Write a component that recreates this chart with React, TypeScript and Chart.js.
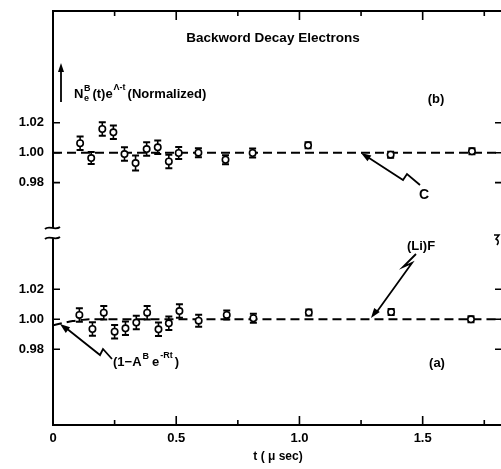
import React, { useEffect, useRef } from 'react';
import { Chart, registerables } from 'chart.js';

Chart.register(...registerables);

// ---- data ----
// panel (b): upper
const tB = [0.11, 0.155, 0.2, 0.245, 0.29, 0.335, 0.38, 0.425, 0.47, 0.51, 0.59, 0.7, 0.81, 1.035, 1.37, 1.7];
const valB = [1.0063, 0.9964, 1.0158, 1.0136, 0.9991, 0.9931, 1.0024, 1.0036, 0.9942, 0.9998, 1.0, 0.9953, 0.9998, 1.0049, 0.9987, 1.0009];
const errB = [0.0045, 0.004, 0.0045, 0.0045, 0.0045, 0.005, 0.0045, 0.0045, 0.0045, 0.004, 0.003, 0.003, 0.003, 0.002, 0.002, 0.002];
// panel (a): lower
const tA = [0.107, 0.16, 0.206, 0.25, 0.294, 0.338, 0.382, 0.428, 0.47, 0.513, 0.591, 0.705, 0.813, 1.038, 1.372, 1.696];
const valA = [1.0029, 0.9935, 1.0044, 0.9917, 0.994, 0.9978, 1.0044, 0.9933, 0.9973, 1.0055, 0.9991, 1.0029, 1.0007, 1.0045, 1.0048, 1.0];
const errA = [0.0045, 0.0045, 0.0045, 0.0045, 0.0045, 0.0045, 0.0045, 0.0045, 0.0045, 0.0045, 0.004, 0.003, 0.003, 0.002, 0.002, 0.002];
// dashed fit lines
const fitBT = [0, 1.83];
const fitBV = [1.0, 1.0];
const fitAT = [0, 0.04, 0.08, 0.12, 0.16, 1.83];
const fitAV = [0.996, 0.9975, 0.9988, 0.9996, 1.0, 1.0];
// ticks
const xTicks = [0, 0.25, 0.5, 0.75, 1.0, 1.25, 1.5, 1.75];
const xTickLabels = ['0', '', '0.5', '', '1.0', '', '1.5', ''];
const yTicks = [0.98, 1.0, 1.02];
const yTickLabels = ['0.98', '1.00', '1.02'];
// ranges
const X_MIN = 0;
const X_MAX = 1.83;
const YB_MIN = 0.9471;
const YB_MAX = 1.0945;
const YA_MIN = 0.9295;
const YA_MAX = 1.0582;

const FONT = '"Liberation Sans", Arial, sans-serif';

function arrowHead(ctx: CanvasRenderingContext2D, fx: number, fy: number, tx: number, ty: number, len = 9, wid = 3.5) {
  const a = Math.atan2(ty - fy, tx - fx);
  ctx.beginPath();
  ctx.moveTo(tx, ty);
  ctx.lineTo(tx - len * Math.cos(a) + wid * Math.sin(a), ty - len * Math.sin(a) - wid * Math.cos(a));
  ctx.lineTo(tx - len * Math.cos(a) - wid * Math.sin(a), ty - len * Math.sin(a) + wid * Math.cos(a));
  ctx.closePath();
  ctx.fill();
}

function poly(ctx: CanvasRenderingContext2D, pts: number[][]) {
  ctx.beginPath();
  ctx.moveTo(pts[0][0], pts[0][1]);
  for (let i = 1; i < pts.length; i++) ctx.lineTo(pts[i][0], pts[i][1]);
  ctx.stroke();
}

const annotPlugin = {
  id: 'annot',
  beforeDatasetsDraw(chart: any) {
    const ctx = chart.ctx as CanvasRenderingContext2D;
    const xs = chart.scales.x;
    ctx.save();
    ctx.strokeStyle = '#000';
    const bars = (ts: number[], vs: number[], es: number[], sc: any) => {
      for (let i = 0; i < ts.length; i++) {
        const px = xs.getPixelForValue(ts[i]);
        const y1 = sc.getPixelForValue(vs[i] + es[i]);
        const y2 = sc.getPixelForValue(vs[i] - es[i]);
        ctx.lineWidth = 1.6;
        ctx.beginPath();
        ctx.moveTo(px, y1);
        ctx.lineTo(px, y2);
        ctx.stroke();
        ctx.lineWidth = 2;
        ctx.beginPath();
        ctx.moveTo(px - 3.5, y1);
        ctx.lineTo(px + 3.5, y1);
        ctx.moveTo(px - 3.5, y2);
        ctx.lineTo(px + 3.5, y2);
        ctx.stroke();
      }
    };
    bars(tB, valB, errB, chart.scales.yb);
    bars(tA, valA, errA, chart.scales.ya);
    ctx.restore();
  },
  afterDraw(chart: any) {
    const ctx = chart.ctx as CanvasRenderingContext2D;
    const ca = chart.chartArea;
    const xs = chart.scales.x;
    const yb = chart.scales.yb;
    const ya = chart.scales.ya;
    ctx.save();
    ctx.strokeStyle = '#000';
    ctx.fillStyle = '#000';

    // top border
    ctx.lineWidth = 2;
    ctx.beginPath();
    ctx.moveTo(ca.left - 1, ca.top);
    ctx.lineTo(ca.right, ca.top);
    ctx.stroke();

    // x tick marks (inward), bottom and top
    ctx.lineWidth = 1.6;
    xTicks.forEach((v, i) => {
      if (v === 0) return;
      const px = xs.getPixelForValue(v);
      const long = xTickLabels[i] !== '';
      ctx.beginPath();
      ctx.moveTo(px, ca.bottom);
      ctx.lineTo(px, ca.bottom - (long ? 9 : 5));
      ctx.moveTo(px, ca.top);
      ctx.lineTo(px, ca.top + (long ? 9 : 5));
      ctx.stroke();
    });
    // y tick marks (inward) left and right
    [yb, ya].forEach((sc) => {
      yTicks.forEach((v) => {
        const py = sc.getPixelForValue(v);
        ctx.beginPath();
        ctx.moveTo(ca.left, py);
        ctx.lineTo(ca.left + 7, py);
        ctx.moveTo(ca.right, py);
        ctx.lineTo(ca.right - 9, py);
        ctx.stroke();
      });
    });

    // axis break on the left
    const bnd = yb.bottom;
    ctx.fillStyle = '#fff';
    ctx.fillRect(ca.left - 3, bnd - 4, 6, 10);
    ctx.fillStyle = '#000';
    ctx.lineWidth = 1.8;
    const tilde = (cx: number, cy: number) => {
      ctx.beginPath();
      ctx.moveTo(cx - 8, cy + 1);
      ctx.bezierCurveTo(cx - 4, cy - 3, cx + 2, cy + 3, cx + 7, cy - 1);
      ctx.stroke();
    };
    tilde(ca.left, bnd - 4);
    tilde(ca.left, bnd + 6);
    // right break mark
    ctx.lineWidth = 1.5;
    ctx.beginPath();
    ctx.moveTo(494, bnd + 3);
    ctx.lineTo(499, bnd + 3);
    ctx.lineTo(496, bnd + 7);
    ctx.quadraticCurveTo(500, bnd + 9, 497, bnd + 13);
    ctx.stroke();

    // title
    ctx.textAlign = 'center';
    ctx.textBaseline = 'alphabetic';
    ctx.font = `bold 13.5px ${FONT}`;
    ctx.fillText('Backword Decay Electrons', 273, 42);

    // y label with arrow
    ctx.lineWidth = 1.8;
    ctx.beginPath();
    ctx.moveTo(61, 102);
    ctx.lineTo(61, 70);
    ctx.stroke();
    arrowHead(ctx, 61, 102, 61, 63, 9, 3);
    ctx.textAlign = 'left';
    let xx = 74;
    const base = 98;
    ctx.font = `bold 13px ${FONT}`;
    ctx.fillText('N', xx, base);
    xx += ctx.measureText('N').width + 0.5;
    ctx.font = `bold 9px ${FONT}`;
    ctx.fillText('B', xx, base - 7);
    ctx.fillText('e', xx, base + 3);
    xx += ctx.measureText('B').width + 2;
    ctx.font = `bold 13px ${FONT}`;
    ctx.fillText('(t)e', xx, base);
    xx += ctx.measureText('(t)e').width + 1;
    ctx.font = `bold 9px ${FONT}`;
    ctx.fillText('\u039B-t', xx, base - 8);
    xx += ctx.measureText('\u039B-t').width + 2;
    ctx.font = `bold 13px ${FONT}`;
    ctx.fillText('(Normalized)', xx, base);

    // panel labels
    ctx.textAlign = 'center';
    ctx.font = `bold 13px ${FONT}`;
    ctx.fillText('(b)', 436, 103);
    ctx.fillText('(a)', 437, 367);

    // C arrow (upper panel)
    ctx.lineWidth = 1.8;
    poly(ctx, [[420, 185], [407, 174], [403, 180], [366, 156]]);
    arrowHead(ctx, 403, 180, 361, 153, 10, 3.5);
    ctx.font = `bold 14px ${FONT}`;
    ctx.fillText('C', 424, 199);

    // (Li)F arrow (lower panel)
    ctx.font = `bold 13px ${FONT}`;
    ctx.fillText('(Li)F', 421, 250);
    poly(ctx, [[416, 254], [403, 267], [412, 263], [376, 313]]);
    arrowHead(ctx, 412, 263, 371, 318, 10, 3.5);

    // (1-A^B e^-Rt) arrow
    poly(ctx, [[112, 359], [103, 349], [100, 355], [66, 328]]);
    arrowHead(ctx, 100, 355, 60, 324, 10, 3.5);
    ctx.textAlign = 'left';
    let lx = 113;
    const lb = 366;
    ctx.font = `bold 13px ${FONT}`;
    ctx.fillText('(1\u2212A', lx, lb);
    lx += ctx.measureText('(1\u2212A').width + 1;
    ctx.font = `bold 9px ${FONT}`;
    ctx.fillText('B', lx, lb - 7);
    lx += ctx.measureText('B').width + 3;
    ctx.font = `bold 13px ${FONT}`;
    ctx.fillText('e', lx, lb);
    lx += ctx.measureText('e').width + 1;
    ctx.font = `bold 9px ${FONT}`;
    ctx.fillText('-Rt', lx, lb - 8);
    lx += ctx.measureText('-Rt').width + 2;
    ctx.font = `bold 13px ${FONT}`;
    ctx.fillText(')', lx, lb);

    // x axis title
    ctx.textAlign = 'center';
    ctx.font = `bold 12px ${FONT}`;
    ctx.fillText('t ( \u03BC sec)', 278, 460);

    ctx.restore();
  },
};

export default function App() {
  const ref = useRef<HTMLCanvasElement | null>(null);
  useEffect(() => {
    if (!ref.current) return;
    const pts = (ts: number[], vs: number[]) => ts.map((t, i) => ({ x: t, y: vs[i] }));
    const tickFont = { family: FONT, size: 13, weight: 'bold' as const };
    const yScale = (min: number, max: number, weight: number) => ({
      type: 'linear' as const,
      position: 'left' as const,
      stack: 'panels',
      stackWeight: weight,
      min,
      max,
      grid: { display: false, drawTicks: false },
      border: { display: true, color: '#000', width: 2 },
      ticks: {
        color: '#000',
        font: tickFont,
        padding: 9,
        callback: (v: any) => {
          const i = yTicks.findIndex((t) => Math.abs(t - Number(v)) < 1e-6);
          return i >= 0 ? yTickLabels[i] : '';
        },
      },
      afterBuildTicks: (s: any) => {
        s.ticks = yTicks.map((v) => ({ value: v }));
      },
      afterFit: (s: any) => {
        s.width = 53;
        s.paddingTop = 0;
        s.paddingBottom = 0;
      },
    });
    const chart = new Chart(ref.current, {
      type: 'line',
      data: {
        datasets: [
          {
            data: pts(tB, valB),
            yAxisID: 'yb',
            showLine: false,
            pointRadius: 3.2,
            pointBackgroundColor: '#fff',
            pointBorderColor: '#000',
            pointBorderWidth: 1.6,
          },
          {
            data: pts(tA, valA),
            yAxisID: 'ya',
            showLine: false,
            pointRadius: 3.2,
            pointBackgroundColor: '#fff',
            pointBorderColor: '#000',
            pointBorderWidth: 1.6,
          },
          {
            data: pts(fitBT, fitBV),
            yAxisID: 'yb',
            borderColor: '#000',
            borderWidth: 2,
            borderDash: [9, 5],
            pointRadius: 0,
            tension: 0,
          },
          {
            data: pts(fitAT, fitAV),
            yAxisID: 'ya',
            borderColor: '#000',
            borderWidth: 2,
            borderDash: [9, 5],
            pointRadius: 0,
            cubicInterpolationMode: 'monotone',
          },
        ],
      },
      options: {
        animation: false,
        responsive: false,
        maintainAspectRatio: false,
        layout: { padding: { left: 0, top: 11, right: 6, bottom: 0 } },
        plugins: { legend: { display: false }, tooltip: { enabled: false }, title: { display: false } },
        scales: {
          x: {
            type: 'linear',
            position: 'bottom',
            min: X_MIN,
            max: X_MAX,
            grid: { display: false, drawTicks: false },
            border: { display: true, color: '#000', width: 2 },
            ticks: {
              color: '#000',
              font: tickFont,
              padding: 6,
              autoSkip: false,
              maxRotation: 0,
              callback: (v: any) => {
                const i = xTicks.findIndex((t) => Math.abs(t - Number(v)) < 1e-6);
                return i >= 0 ? xTickLabels[i] : '';
              },
            },
            afterBuildTicks: (s: any) => {
              s.ticks = xTicks.map((v) => ({ value: v }));
            },
            afterFit: (s: any) => {
              s.height = 44;
            },
          },
          // in a stack, the scale listed last is placed on top
          ya: yScale(YA_MIN, YA_MAX, 193),
          yb: yScale(YB_MIN, YB_MAX, 221),
        },
      } as any,
      plugins: [annotPlugin],
    });
    return () => chart.destroy();
  }, []);
  return (
    <div style={{ position: 'fixed', left: 0, top: 0, width: 501, height: 469, overflow: 'hidden', background: '#fff' }}>
      <canvas ref={ref} width={510} height={469} style={{ display: 'block', width: 510, height: 469 }} />
    </div>
  );
}
